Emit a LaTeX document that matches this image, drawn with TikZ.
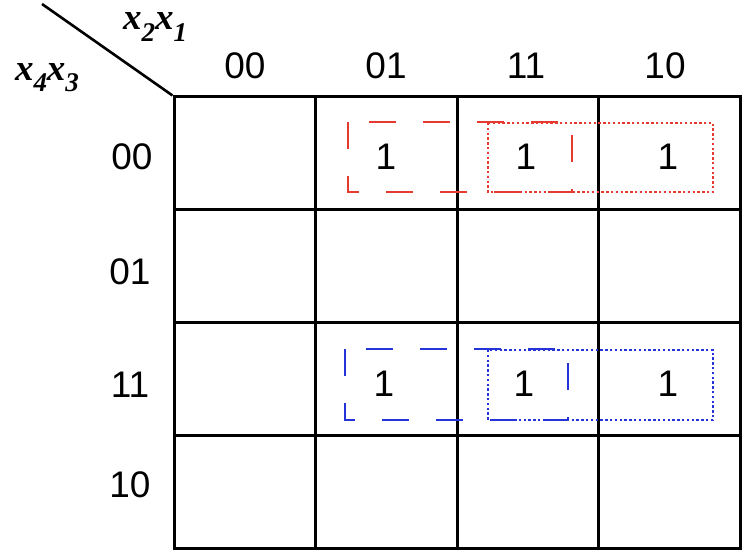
\documentclass[tikz,border=0pt]{standalone}
\usepackage{fontspec}
\setmainfont{Liberation Sans}
\newfontfamily\lblfont{Liberation Serif}
\definecolor{kred}{RGB}{228,58,48}
\definecolor{kblue}{RGB}{36,52,214}
\newcommand{\ksub}[1]{\raisebox{-0.3em}{\fontsize{27}{27}\selectfont #1}}
\begin{document}
\begin{tikzpicture}[x=1pt,y=-1pt,
  cell/.style={draw, line width=3pt, minimum width=141.5pt, minimum height=112.75pt, inner sep=0pt},
  hdr/.style={font=\fontsize{37}{37}\selectfont, inner sep=0pt},
  one/.style={font=\fontsize{37}{37}\selectfont, inner sep=0pt},
  var/.style={font=\lblfont\bfseries\itshape\fontsize{37}{37}\selectfont, inner sep=0pt},
  dashgrp/.style={line width=2.8pt, dash pattern=on 27pt off 27pt},
  dotgrp/.style={line width=2.6pt, dash pattern=on 2.4pt off 2.4pt}]
\useasboundingbox (0,0) rectangle (746,559);
\foreach \r in {0,...,3}{
  \foreach \c in {0,...,3}{
    \node[cell] (c\r\c) at ({174+141.5*\c+70.75},{97+112.75*\r+56.375}) {};
  }
}
\coordinate (diag) at (42,4);
\draw[line width=2.6pt] (diag) -- (c00.north west);
\node[var] (x21) at (155,27) {x\ksub{2}x\ksub{1}};
\node[var] (x43) at (47,78) {x\ksub{4}x\ksub{3}};
\node[hdr] (h0) at (245,66) {00};
\node[hdr] (h1) at (386,66) {01};
\node[hdr] (h2) at (526,66) {11};
\node[hdr] (h3) at (665,66) {10};
\node[hdr] (v0) at (132,157) {00};
\node[hdr] (v1) at (130,272) {01};
\node[hdr] (v2) at (130,385) {11};
\node[hdr] (v3) at (130,485) {10};
\node[one] (o01) at (386,157) {1};
\node[one] (o02) at (526,157) {1};
\node[one] (o03) at (668,157) {1};
\node[one] (o21) at (384,384) {1};
\node[one] (o22) at (524,384) {1};
\node[one] (o23) at (668,384) {1};
\draw[kred,dashgrp] (348,122) rectangle (572,192);
\draw[kred,dotgrp] (488,123) rectangle (713,192);
\draw[kblue,dashgrp] (345,349) rectangle (568,420);
\draw[kblue,dotgrp] (488,350) rectangle (713,420);
\end{tikzpicture}
\end{document}
